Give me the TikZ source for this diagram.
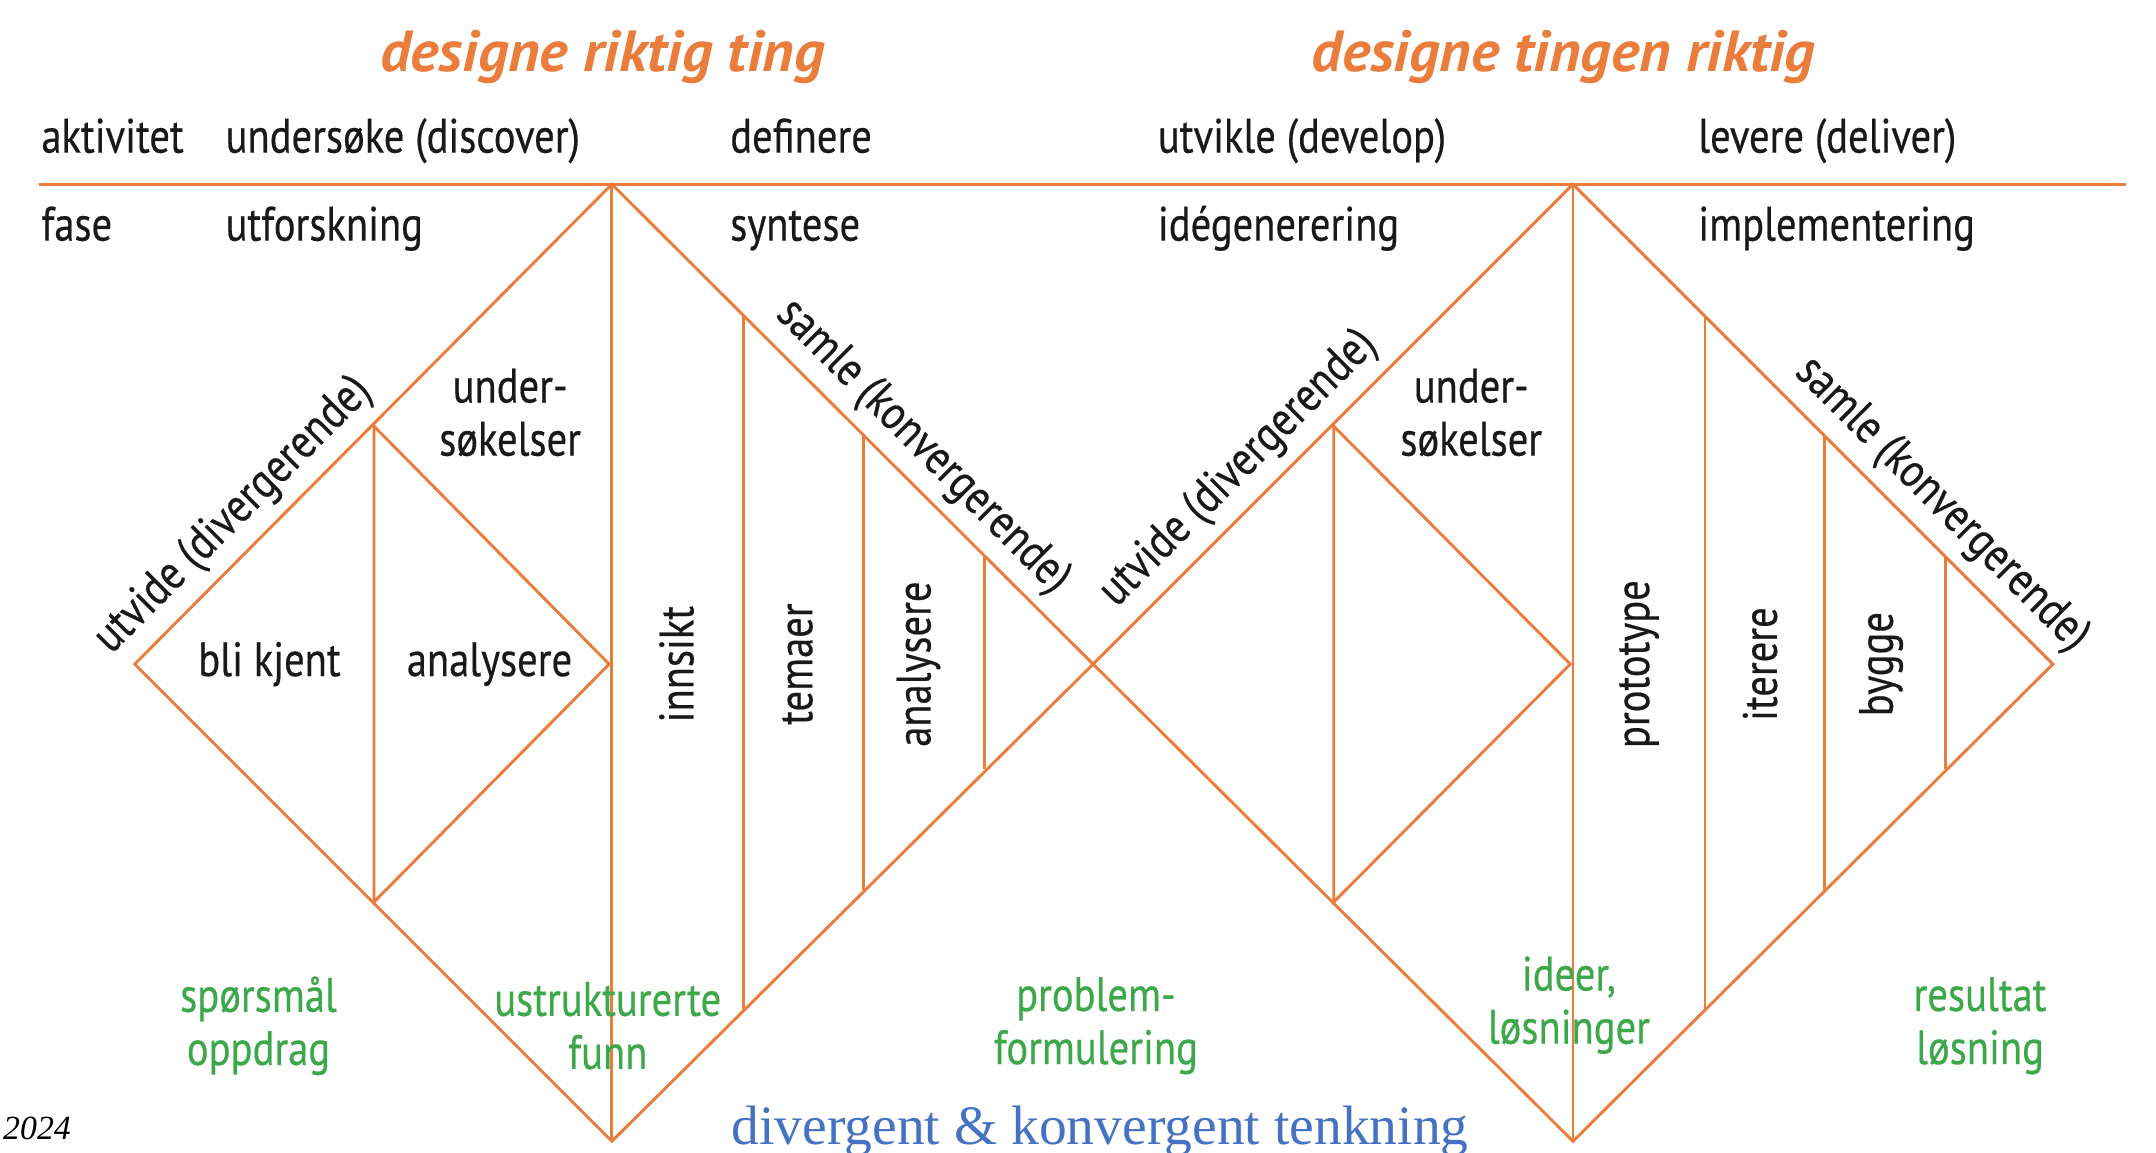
\documentclass[tikz,border=0pt]{standalone}
\usepackage{fontspec}
\setmainfont{PT Sans}[FakeStretch=0.84, FakeBold=0.4]
\newfontfamily\titlefont{PT Sans}[FakeStretch=1.04]
\newfontfamily\seriffont{Liberation Serif}
\definecolor{ddorange}{RGB}{234,125,60}
\definecolor{ddgreen}{RGB}{60,168,74}
\definecolor{ddblue}{RGB}{70,114,196}
\tikzset{
  ddline/.style={draw=ddorange, line width=1.2pt},
  lbl/.style={font=\fontsize{20}{22}\selectfont, inner sep=1pt, text=black!90},
  res/.style={lbl, text=ddgreen, align=center},
  titel/.style={font=\titlefont\fontsize{24}{28}\selectfont\bfseries\itshape, text=ddorange, anchor=base}
}
\begin{document}
\begin{tikzpicture}[x=0.02cm, y=-0.02cm]
  \fill[white] (0,0) rectangle (1568,838);
  \useasboundingbox (0,0) rectangle (1568,838);

  % diamond corners
  \coordinate (L1) at (98,483);
  \coordinate (T1) at (445,134);
  \coordinate (B1) at (445,830);
  \coordinate (R1) at (795,483);
  \coordinate (T2) at (1144,134);
  \coordinate (B2) at (1144,830);
  \coordinate (R2) at (1493,483);
  \coordinate (iT1) at (272,310);
  \coordinate (iB1) at (272,656);
  \coordinate (iR1) at (443,483);
  \coordinate (iT2) at (970,310);
  \coordinate (iB2) at (970,656);
  \coordinate (iR2) at (1142,483);
  \coordinate (hl) at (28,134);
  \coordinate (hr) at (1546,134);

  \draw[ddline] (hl) -- (hr);
  \draw[ddline] (L1) -- (T1) -- (R1) -- (T2) -- (R2) -- (B2) -- (R1) -- (B1) -- cycle;
  \draw[ddline] (T1) -- (B1);
  \draw[ddline] (T2) -- (B2);
  \draw[ddline] (iT1) -- (iR1) -- (iB1) -- cycle;
  \draw[ddline] (iT2) -- (iR2) -- (iB2) -- cycle;
  \foreach \d in {96,183,271} {
    \draw[ddline] (445+\d,134+\d) -- (445+\d,830-\d);
    \draw[ddline] (1144+\d,134+\d) -- (1144+\d,830-\d);
  }

  % titles
  \node[titel] (tit1) at (438,52) {designe riktig ting};
  \node[titel] (tit2) at (1137,52) {designe tingen riktig};

  % header rows
  \node[lbl, anchor=base west] (akt) at (28,111) {aktivitet};
  \node[lbl, anchor=base west] (akt1) at (162,111) {undersøke (discover)};
  \node[lbl, anchor=base west] (akt2) at (529,111) {definere};
  \node[lbl, anchor=base west] (akt3) at (840,111) {utvikle (develop)};
  \node[lbl, anchor=base west] (akt4) at (1233,111) {levere (deliver)};
  \node[lbl, anchor=base west] (fase) at (28,175) {fase};
  \node[lbl, anchor=base west] (fase1) at (162,175) {utforskning};
  \node[lbl, anchor=base west] (fase2) at (529,175) {syntese};
  \node[lbl, anchor=base west] (fase3) at (840,175) {idégenerering};
  \node[lbl, anchor=base west] (fase4) at (1233,175) {implementering};

  % first diamond
  \node[lbl, rotate=45, anchor=south, inner sep=5pt] (div1) at (188,393) {utvide (divergerende)};
  \node[lbl, align=center] (und1) at (371,300) {under-\\søkelser};
  \node[lbl] (kjent) at (196,483) {bli kjent};
  \node[lbl] (anal1) at (356,483) {analysere};
  \node[lbl, rotate=90] (innsikt) at (492,483) {innsikt};
  \node[lbl, rotate=90] (temaer) at (580,483) {temaer};
  \node[lbl, rotate=90] (anal2) at (668,483) {analysere};
  \node[lbl, rotate=-45, anchor=south, inner sep=5pt] (kon1) at (653,343) {samle (konvergerende)};

  % second diamond
  \node[lbl, rotate=45, anchor=south, inner sep=5pt] (div2) at (919,359) {utvide (divergerende)};
  \node[lbl, align=center] (und2) at (1070,300) {under-\\søkelser};
  \node[lbl, rotate=90] (proto) at (1192,483) {prototype};
  \node[lbl, rotate=90] (iter) at (1280,483) {iterere};
  \node[lbl, rotate=90] (bygge) at (1368,483) {bygge};
  \node[lbl, rotate=-45, anchor=south, inner sep=5pt] (kon2) at (1394,385) {samle (konvergerende)};

  % results
  \node[res] (sp) at (188,746) {spørsmål\\oppdrag};
  \node[res] (funn) at (442,746) {ustrukturerte\\funn};
  \node[res] (prob) at (797,746) {problem-\\formulering};
  \node[res] (ideer) at (1141,731) {ideer,\\løsninger};
  \node[res] (losn) at (1440,746) {resultat\\løsning};

  \node[font=\seriffont\fontsize{23}{27}\selectfont, text=ddblue, anchor=base] (tenk) at (800,832) {divergent \& konvergent tenkning};
  \node[font=\seriffont\itshape\fontsize{14}{16}\selectfont, anchor=base west, inner sep=0pt] (aar) at (2,829) {2024};
\end{tikzpicture}
\end{document}
